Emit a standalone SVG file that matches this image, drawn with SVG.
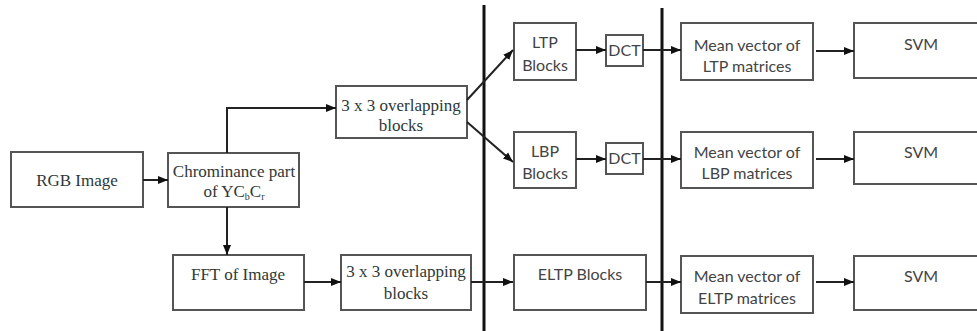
<svg xmlns="http://www.w3.org/2000/svg" width="977" height="331" viewBox="0 0 977 331">
<style>
.box{fill:#fff;stroke:#555;stroke-width:2}
.serif{font-family:"Liberation Serif","Times New Roman",serif;font-size:17px;fill:#2e3838;text-anchor:middle}
.sans{font-family:Lato,"Open Sans",sans-serif;font-size:16px;fill:#444;text-anchor:middle}
.conn{fill:none;stroke:#222;stroke-width:2;marker-end:url(#ah)}
.sep{stroke:#111;stroke-width:3}
</style>
<defs>
<marker id="ah" markerUnits="userSpaceOnUse" markerWidth="10" markerHeight="10" viewBox="0 0 10 10" refX="10" refY="5" orient="auto">
<path d="M0,1 L10,5 L0,9 z" fill="#111"/>
</marker>
</defs>
<rect width="977" height="331" fill="#fff"/>
<g id="separators">
<line class="sep" x1="484" y1="5" x2="484" y2="331"/>
<line class="sep" x1="662" y1="8" x2="662" y2="331"/>
</g>
<g id="rgb"><rect class="box" x="11" y="152" width="132" height="55"/><text class="serif" x="77" y="186">RGB Image</text></g>
<g id="chrom"><rect class="box" x="168" y="153" width="131" height="54"/><text class="serif" x="234" y="177">Chrominance part</text><text class="serif" x="234" y="197">of YC<tspan font-size="10" dy="3">b</tspan><tspan dy="-3">C</tspan><tspan font-size="10" dy="3">r</tspan></text></g>
<g id="overlap1"><rect class="box" x="336" y="86" width="131" height="52"/><text class="serif" x="401" y="111">3 x 3 overlapping</text><text class="serif" x="401" y="131">blocks</text></g>
<g id="fft"><rect class="box" x="173" y="255" width="131" height="55"/><text class="serif" x="238" y="280">FFT of Image</text></g>
<g id="overlap2"><rect class="box" x="341" y="255" width="130" height="55"/><text class="serif" x="406" y="277">3 x 3 overlapping</text><text class="serif" x="406" y="299">blocks</text></g>
<g id="ltp"><rect class="box" x="514" y="23" width="62" height="57"/><text class="sans" x="545" y="48">LTP</text><text class="sans" x="545" y="71">Blocks</text></g>
<g id="lbp"><rect class="box" x="514" y="132" width="62" height="56"/><text class="sans" x="545" y="157">LBP</text><text class="sans" x="545" y="179">Blocks</text></g>
<g id="dct1"><rect class="box" x="606" y="35" width="37" height="31"/><text class="sans" x="624.5" y="56">DCT</text></g>
<g id="dct2"><rect class="box" x="606" y="143" width="37" height="31"/><text class="sans" x="624.5" y="164">DCT</text></g>
<g id="eltp"><rect class="box" x="514" y="255" width="132" height="55"/><text class="sans" x="580" y="280">ELTP Blocks</text></g>
<g id="mean1"><rect class="box" x="681" y="23" width="132" height="57"/><text class="sans" x="747" y="51">Mean vector of</text><text class="sans" x="747" y="72">LTP matrices</text></g>
<g id="mean2"><rect class="box" x="681" y="132" width="132" height="56"/><text class="sans" x="747" y="158">Mean vector of</text><text class="sans" x="747" y="179">LBP matrices</text></g>
<g id="mean3"><rect class="box" x="681" y="256" width="132" height="57"/><text class="sans" x="747" y="282">Mean vector of</text><text class="sans" x="747" y="304">ELTP matrices</text></g>
<g id="svm1"><rect class="box" x="854" y="23" width="135" height="55"/><text class="sans" x="921" y="50">SVM</text></g>
<g id="svm2"><rect class="box" x="854" y="132" width="135" height="52"/><text class="sans" x="921" y="158">SVM</text></g>
<g id="svm3"><rect class="box" x="854" y="256" width="135" height="54"/><text class="sans" x="921" y="282">SVM</text></g>
<g id="connectors">
<path class="conn" d="M143,180 H168"/>
<path class="conn" d="M227,153 V108 H336"/>
<path class="conn" d="M227,207 V255"/>
<path class="conn" d="M304,282 H341"/>
<path class="conn" d="M471,282 H513"/>
<path class="conn" d="M467,100 L513,50"/>
<path class="conn" d="M467,122 L513,162"/>
<path class="conn" d="M576,50 H606"/>
<path class="conn" d="M576,159 H606"/>
<path class="conn" d="M643,50 H681"/>
<path class="conn" d="M643,159 H681"/>
<path class="conn" d="M646,282 H681"/>
<path class="conn" d="M816,51 H854"/>
<path class="conn" d="M816,159 H854"/>
<path class="conn" d="M816,282 H854"/>
</g>
</svg>
